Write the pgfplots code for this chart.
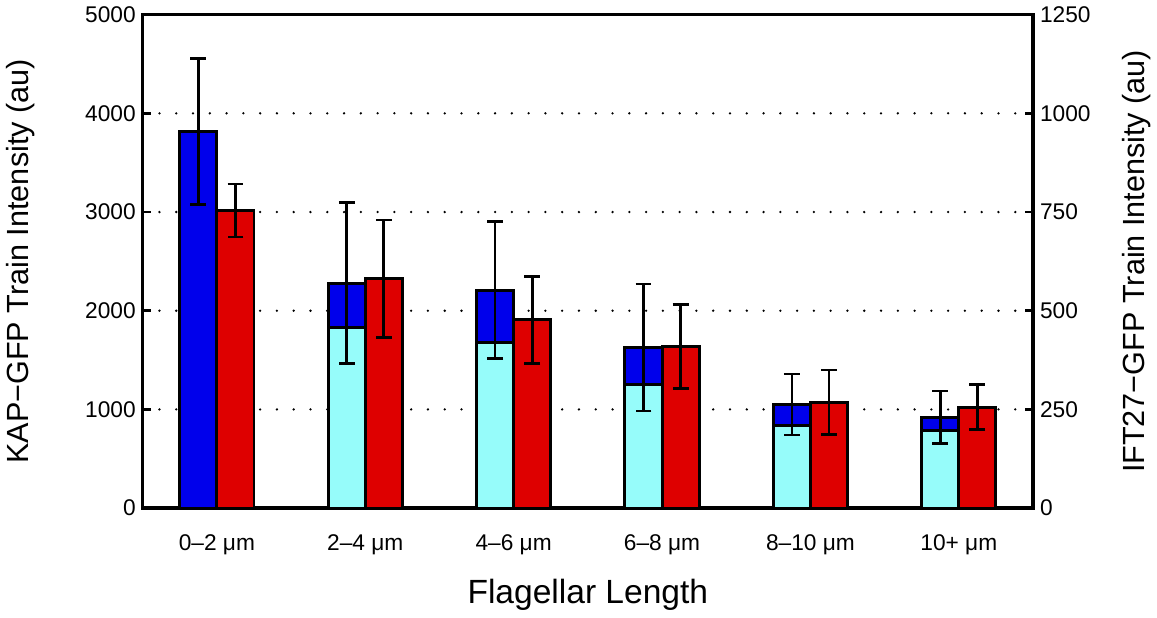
\documentclass[border=0pt]{standalone}
\usepackage{pgfplots}
\pgfplotsset{compat=1.18}
\usepackage{fontspec}
\setmainfont{Liberation Sans}
\definecolor{kapblue}{RGB}{0,0,235}
\definecolor{kapcyan}{RGB}{150,252,250}
\definecolor{iftred}{RGB}{222,0,0}
\begin{document}
\begin{tikzpicture}
\pgfplotsset{
  every axis/.append style={
    width=451pt, height=250pt, scale only axis,
    xmin=-0.5, xmax=5.5,
    /pgf/number format/assume math mode=true,
    /pgf/number format/1000 sep={},
    tick label style={font=\fontsize{11.5}{13}\selectfont},
    label style={font=\fontsize{15.5}{18}\selectfont},
    axis line style={line width=1.7pt},
    major tick length=4pt,
  },
  bar/.style={ybar, bar width=0.25, draw=black, line width=1.5pt},
  errs/.style={forget plot, mark=none, draw=none,
    error bars/y dir=both, error bars/y explicit,
    error bars/error bar style={draw=black, line width=1.4pt, solid},
    error bars/error mark options={draw=black, rotate=90, mark size=4pt, line width=1.4pt}},
}
% left axis: KAP-GFP (cyan part + blue total)
\begin{axis}[
  ymin=0, ymax=5000, ytick={0,1000,...,5000}, ytick pos=left,
  tick align=inside, ytick style={line width=1.3pt, black},
  xtick={0,...,5},
  xticklabels={0–2 μm, 2–4 μm, 4–6 μm, 6–8 μm, 8–10 μm, 10+ μm},
  xtick style={draw=none},
  xticklabel style={yshift=-10pt},
  ymajorgrids,
  grid style={black, line width=1.3pt, line cap=round, dash pattern=on 0pt off 8.5pt},
  ylabel={KAP−GFP Train Intensity (au)},
  ylabel style={at={(axis description cs:-0.113,0.5)}},
  xlabel={Flagellar Length},
  xlabel style={at={(axis description cs:0.5,-0.13)}, anchor=north, font=\fontsize{17}{20}\selectfont},
]
\addplot[bar, bar shift=-0.125, fill=kapblue] coordinates {(0,3819) (1,2278) (2,2209) (3,1628) (4,1050) (5,922)};
\addplot[bar, bar shift=-0.125, fill=kapcyan] coordinates {(1,1833) (2,1680) (3,1252) (4,835) (5,790)};
\addplot[errs] coordinates {
  (-0.125,3819) +- (0,740)
  (0.875,2278) +- (0,815)
  (1.875,2209) +- (0,692)
  (2.875,1628) +- (0,643)
  (3.875,1050) +- (0,308)
  (4.875,922) +- (0,266)
};
\end{axis}
% right axis: IFT27-GFP
\begin{axis}[
  ymin=0, ymax=1250, ytick={0,250,...,1250},
  axis y line*=right, axis x line=none,
  tick align=inside, ytick style={line width=1.3pt, black},
  ylabel={IFT27−GFP Train Intensity (au)},
  ylabel style={at={(axis description cs:1.092,0.5)}},
]
\addplot[bar, bar shift=0.125, fill=iftred] coordinates {(0,754) (1,581) (2,477) (3,410) (4,268) (5,256)};
\addplot[errs] coordinates {
  (0.125,754) +- (0,67)
  (1.125,581) +- (0,149)
  (2.125,477) +- (0,110)
  (3.125,410) +- (0,106)
  (4.125,268) +- (0,82)
  (5.125,256) +- (0,57)
};
\end{axis}
\end{tikzpicture}
\end{document}
